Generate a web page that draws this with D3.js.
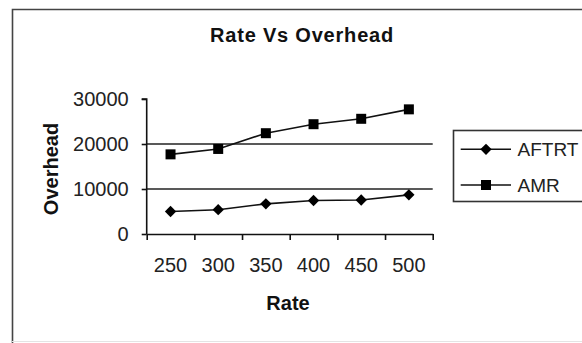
<!DOCTYPE html>
<html>
<head>
<meta charset="utf-8">
<script src="https://cdn.jsdelivr.net/npm/d3@7"></script>
<style>
  html, body { margin: 0; padding: 0; background: #fff; }
  svg { display: block; font-family: Arial, "Liberation Sans", sans-serif; }
</style>
</head>
<body>
<div id="graphique"></div>
<script>
// Données
const rates = ["250", "300", "350", "400", "450", "500"]
const aftrt = [5000, 5400, 6700, 7450, 7550, 8700]
const amr = [17700, 18900, 22400, 24400, 25600, 27700]
const yTicks = [0, 10000, 20000, 30000]
const gridValues = [10000, 20000]
const seriesNames = ["AFTRT", "AMR"]

// losange = carré tourné de 45°
const series = [
    { name: seriesNames[0], values: aftrt, symbol: d3.symbolSquare, size: 64, rot: 45 },
    { name: seriesNames[1], values: amr, symbol: d3.symbolSquare, size: 100, rot: 0 }
]

const W = 582, H = 343
const plot = { left: 146.7, right: 432.7, top: 99, bottom: 234 }

let svg = d3.select("#graphique")
    .append("svg")
    .attr("width", W)
    .attr("height", H)

// cadre du graphique
svg.append("path")
    .attr("d", "M12.5,343 V9.5 H582")
    .attr("fill", "none")
    .attr("stroke", "#444")
    .attr("stroke-width", 1.6)
svg.append("line")
    .attr("x1", 12).attr("x2", W)
    .attr("y1", 341.5).attr("y2", 341.5)
    .attr("stroke", "#e4e4e4")

// Echelles
let x = d3.scaleBand()
    .domain(rates)
    .range([plot.left, plot.right])

let xEdges = d3.scaleLinear()
    .domain([0, rates.length])
    .range([plot.left, plot.right])

let y = d3.scaleLinear()
    .domain([0, 30000])
    .range([plot.bottom, plot.top])

// grille
svg.append("g")
    .selectAll("line")
    .data(gridValues)
    .join("line")
    .attr("x1", plot.left)
    .attr("x2", plot.right)
    .attr("y1", d => y(d))
    .attr("y2", d => y(d))
    .attr("stroke", "#222")
    .attr("stroke-width", 1.5)

// axe y
let yAxis = svg.append("g")
    .attr("transform", "translate(" + plot.left + ",0)")
    .call(d3.axisLeft(y).tickValues(yTicks).tickFormat(d3.format("d")).tickSize(5).tickPadding(13))
yAxis.select(".domain").attr("stroke", "#111").attr("stroke-width", 1.6).attr("d", "M-5," + plot.top + "H0V" + plot.bottom)
yAxis.selectAll(".tick line").attr("stroke", "#111").attr("stroke-width", 1.6)
yAxis.selectAll(".tick text").attr("font-size", 20).attr("fill", "#222")

// axe x : graduations aux limites des catégories
let xTicks = svg.append("g")
    .attr("transform", "translate(0," + plot.bottom + ")")
    .call(d3.axisBottom(xEdges).tickValues(d3.range(rates.length + 1)).tickFormat("").tickSize(6).tickSizeOuter(0))
xTicks.select(".domain").attr("stroke", "#111").attr("stroke-width", 1.6)
xTicks.selectAll(".tick line").attr("stroke", "#111").attr("stroke-width", 1.6)

let xLabels = svg.append("g")
    .attr("transform", "translate(0," + plot.bottom + ")")
    .call(d3.axisBottom(x).tickSize(0).tickPadding(23.5))
xLabels.select(".domain").remove()
xLabels.selectAll(".tick text").attr("font-size", 20).attr("fill", "#222")

// lignes et marqueurs
let line = d3.line()
    .x((d, i) => x(rates[i]) + x.bandwidth() / 2)
    .y(d => y(d))

series.forEach(s => {
    svg.append("path")
        .datum(s.values)
        .attr("d", line)
        .attr("fill", "none")
        .attr("stroke", "#111")
        .attr("stroke-width", 1.6)

    svg.append("g")
        .selectAll("path")
        .data(s.values)
        .join("path")
        .attr("transform", (d, i) => "translate(" + (x(rates[i]) + x.bandwidth() / 2) + "," + y(d) + ") rotate(" + s.rot + ")")
        .attr("d", d3.symbol().type(s.symbol).size(s.size))
        .attr("fill", "#000")
})

// titres
svg.append("text")
    .attr("x", 302)
    .attr("y", 42)
    .attr("text-anchor", "middle")
    .attr("font-size", 20)
    .attr("font-weight", "bold")
    .attr("letter-spacing", 0.8)
    .attr("fill", "#111")
    .text("Rate Vs Overhead")

svg.append("text")
    .attr("x", 288)
    .attr("y", 310)
    .attr("text-anchor", "middle")
    .attr("font-size", 20)
    .attr("font-weight", "bold")
    .attr("fill", "#111")
    .text("Rate")

svg.append("text")
    .attr("transform", "translate(58,169) rotate(-90)")
    .attr("text-anchor", "middle")
    .attr("font-size", 20)
    .attr("font-weight", "bold")
    .attr("fill", "#111")
    .text("Overhead")

// légende
svg.append("rect")
    .attr("x", 453.5)
    .attr("y", 130.5)
    .attr("width", 140)
    .attr("height", 71)
    .attr("fill", "#fff")
    .attr("stroke", "#333")
    .attr("stroke-width", 1.6)

let legend = svg.append("g")
    .selectAll("g")
    .data(series)
    .join("g")
    .attr("transform", (d, i) => "translate(0," + (149.3 + i * 35.7) + ")")

legend.append("line")
    .attr("x1", 460.7).attr("x2", 511)
    .attr("stroke", "#111")
    .attr("stroke-width", 1.6)
legend.append("path")
    .attr("transform", d => "translate(486,0) rotate(" + d.rot + ")")
    .attr("d", d => d3.symbol().type(d.symbol).size(d.size)())
    .attr("fill", "#000")
legend.append("text")
    .attr("x", 517.5)
    .attr("dy", "0.36em")
    .attr("font-size", 19)
    .attr("fill", "#222")
    .text(d => d.name)
</script>
</body>
</html>
